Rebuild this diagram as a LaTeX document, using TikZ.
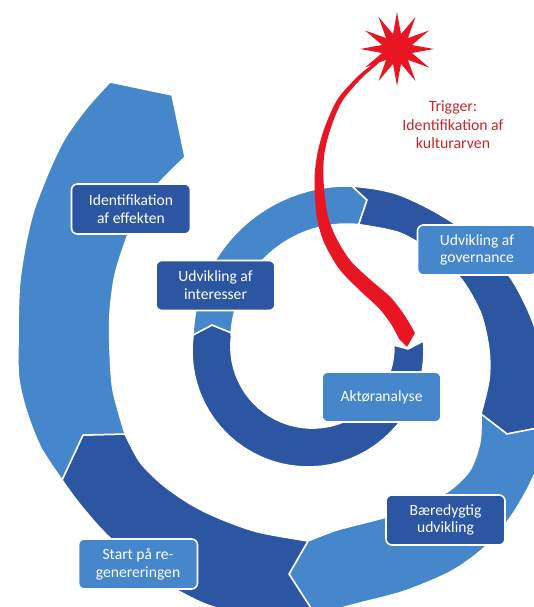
\documentclass[tikz,border=0pt]{standalone}
\usepackage{fontspec}
\setmainfont{Carlito}
\usetikzlibrary{shapes.geometric}

\definecolor{lightblue}{RGB}{70,134,202}
\definecolor{darkblue}{RGB}{45,86,162}
\definecolor{flash}{RGB}{232,22,35}
\definecolor{triggertext}{RGB}{196,40,44}

\begin{document}
\begin{tikzpicture}[x=1pt, y=-1pt,
    band/.style={draw=white, line width=1.5pt},
    arcplot/.style={domain=0:1, samples=40, variable=\t},
    stagebox/.style={rounded corners=6pt, draw=white, line width=1.6pt,
      minimum width=119pt, minimum height=50pt, align=center, text=white,
      font=\fontsize{15.6}{17.8}\selectfont},
    lightbox/.style={stagebox, fill=lightblue},
    darkbox/.style={stagebox, fill=darkblue},
    triggerlabel/.style={align=center, text=triggertext,
      font=\fontsize{15.8}{18.5}\selectfont}]
  \useasboundingbox (0,0) rectangle (534,607);
  \clip (0,0) rectangle (534,607);

  % joints of the spiral: outer corner, tip, inner corner
  \coordinate (o0) at (423.6,340.9); \coordinate (a0) at (408,349);   \coordinate (i0) at (394,345.1);
  \coordinate (o1) at (193.1,334.9); \coordinate (a1) at (212,325);   \coordinate (i1) at (231.9,333);
  \coordinate (o2) at (352.1,186.1); \coordinate (a2) at (367,200);   \coordinate (i2) at (358.7,224.6);
  \coordinate (o3) at (548,426);     \coordinate (a3) at (507,434);   \coordinate (i3) at (481,414);
  \coordinate (o4) at (316,616);     \coordinate (a4) at (289,574);   \coordinate (i4) at (308,541);
  \coordinate (o5) at (62,480);      \coordinate (a5) at (83,435);    \coordinate (i5) at (125,434);
  \coordinate (o6) at (110,82);      \coordinate (a6) at (172,95);    \coordinate (i6) at (185,157);

  % spiral
  \fill[band, fill=darkblue] (o0)
    -- plot[arcplot] ({308+116*cos(-5+193*\t)}, {351+116*sin(-5+193*\t)})
    -- (o1) -- (a1) -- (i1)
    -- plot[arcplot] ({312.4+81.6*cos(189.5-190.5*\t)}, {346.5+81.6*sin(189.5-190.5*\t)})
    -- (i0) -- (a0) -- cycle;
  \fill[band, fill=lightblue] (o1)
    -- plot[arcplot] ({347+154*cos(-178.1+90*\t)}, {340+154*sin(-178.1+90*\t)})
    -- (o2) -- (a2) -- (i2)
    -- plot[arcplot] ({347+116*cos(-84.2-92.8*\t)}, {340+116*sin(-84.2-92.8*\t)})
    -- (i1) -- (a1) -- cycle;
  \fill[band, fill=darkblue] (o2)
    -- plot[smooth] coordinates {(352.1,186.1) (376,189) (400,195) (430,209) (458,226) (488,250) (514,283) (534,325) (545,372) (548,426)}
    -- (a3) -- (i3)
    -- plot[smooth] coordinates {(481,414) (489,380) (489,350) (481,314) (462,280) (435,254) (400,233) (358.7,224.6)}
    -- (a2) -- cycle;
  \fill[band, fill=lightblue] (o3)
    -- plot[smooth] coordinates {(548,426) (541,458) (528,488) (510,518) (485,547) (452,571) (405,591) (360,603) (330,611) (316,616)}
    -- (a4) -- (i4)
    -- plot[smooth] coordinates {(308,541) (337,530) (383,518) (420,506) (450,490) (470,470) (480,442) (481,414)}
    -- (a3) -- cycle;
  \fill[band, fill=darkblue] (o4)
    -- plot[smooth] coordinates {(316,616) (280,622) (240,614) (205,604) (170,586) (135,561) (102,530) (78,502) (62,480)}
    -- (a5) -- (i5)
    -- plot[smooth] coordinates {(125,434) (140,462) (163,485) (192,505) (221,519) (258,532) (308,541)}
    -- (a4) -- cycle;
  \fill[band, fill=lightblue] (o5)
    -- plot[smooth] coordinates {(62,480) (41,448) (27,413) (19,380) (18,347) (20,280) (33,213) (60,147) (85,110) (110,82)}
    -- (a6) -- (i6)
    -- plot[smooth] coordinates {(185,157) (160,182) (140,207) (127,237) (115,275) (110,313) (110,350) (113,390) (125,434)}
    -- (a5) -- cycle;

  % trigger
  \node[star, star points=12, star point ratio=2.4, fill=flash, minimum size=74pt, inner sep=0pt] (burst) at (397,49) {};
  \fill[flash]
    plot[smooth] coordinates {(377,61) (358.6,75.6) (337.9,98.7) (325.2,126) (317.6,152.4) (314.5,180) (316.6,216)
      (324.1,242.7) (339.5,269.3) (359.8,290.4) (379.2,308.5) (391.4,324.6) (399,339)}
    -- (407,347)
    -- plot[smooth] coordinates {(415,333) (404.6,315.4) (390.8,297.5) (370.2,279.6) (350.5,260.7) (335.9,237.3)
      (327.4,214) (323.5,180) (324.4,153.6) (330.8,128) (342.1,101.4) (361.4,78.4) (379,63)}
    -- cycle;
  \node[triggerlabel] (trigger) at (453,125) {Trigger:\\Identifikation af\\kulturarven};

  % stages
  \node[darkbox] (effekt) at (131,209) {Identifikation\\af effekten};
  \node[darkbox] (interesse) at (215.5,285.5) {Udvikling af\\interesser};
  \node[lightbox] (governance) at (477,250) {Udvikling af\\governance};
  \node[lightbox] (aktoer) at (381.5,397) {Aktøranalyse};
  \node[darkbox] (baered) at (445.5,520) {Bæredygtig\\udvikling};
  \node[lightbox] (regen) at (138,564) {Start på re-\\genereringen};
\end{tikzpicture}
\end{document}
